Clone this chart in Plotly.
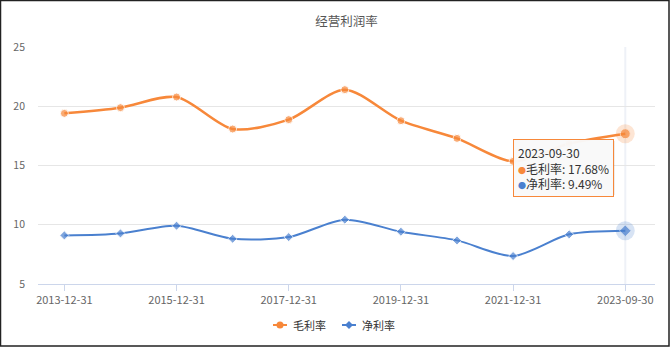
import plotly.graph_objects as go

# Reporting periods and margin series (%)
periods = ["2013-12-31", "2014-12-31", "2015-12-31", "2016-12-31", "2017-12-31",
           "2018-12-31", "2019-12-31", "2020-12-31", "2021-12-31", "2022-12-31",
           "2023-09-30"]
gross_margin = [19.40, 19.88, 20.78, 18.08, 18.87, 21.40, 18.78, 17.29, 15.35, 16.85, 17.68]
net_margin = [9.10, 9.27, 9.92, 8.82, 8.96, 10.43, 9.41, 8.68, 7.36, 9.19, 9.49]
tick_labels = ["2013-12-31", "2015-12-31", "2017-12-31", "2019-12-31", "2021-12-31", "2023-09-30"]
series_names = ["毛利率", "净利率"]

ORANGE = "#f7883a"
BLUE = "#4a80cf"
FONT = "Noto Sans CJK SC, Noto Sans, sans-serif"

W, H = 670, 347
L, R, T, B = 38, 15, 47, 63
pw, ph = W - L - R, H - T - B


def px(xp):
    return (xp - L) / pw


def py(yp):
    return (H - B - yp) / ph


fig = go.Figure()

# crosshair at the hovered period
fig.add_shape(type="line", xref="x", yref="paper", x0=periods[-1], x1=periods[-1],
              y0=0, y1=1, line=dict(color="rgba(232,236,244,0.75)", width=2), layer="below")

n = len(periods)
fig.add_trace(go.Scatter(
    x=periods, y=gross_margin, name=series_names[0], mode="lines+markers",
    line=dict(color=ORANGE, width=2.5, shape="spline", smoothing=0.8),
    marker=dict(symbol="circle", size=[8] * (n - 1) + [10], color=ORANGE),
    showlegend=False,
))
fig.add_trace(go.Scatter(
    x=periods, y=net_margin, name=series_names[1], mode="lines+markers",
    line=dict(color=BLUE, width=2, shape="spline", smoothing=0.8),
    marker=dict(symbol="diamond", size=[7] * (n - 1) + [9], color=BLUE),
    showlegend=False,
))
# hover halos on the latest period
fig.add_trace(go.Scatter(x=[periods[-1]], y=[gross_margin[-1]], mode="markers",
                         marker=dict(size=19, color=ORANGE, opacity=0.22),
                         showlegend=False, hoverinfo="skip"))
fig.add_trace(go.Scatter(x=[periods[-1]], y=[net_margin[-1]], mode="markers",
                         marker=dict(size=19, color=BLUE, opacity=0.22),
                         showlegend=False, hoverinfo="skip"))

# tooltip box for the latest period
dot = "<span style='font-size:8px;color:{c}'>●</span>"
tip_text = (f"{periods[-1]}<br>"
            f"{dot.format(c=ORANGE)}{series_names[0]}: {gross_margin[-1]:.2f}%<br>"
            f"{dot.format(c=BLUE)}{series_names[1]}: {net_margin[-1]:.2f}%")
fig.add_shape(type="rect", xref="paper", yref="paper",
              x0=px(515), x1=px(615), y0=py(195), y1=py(141),
              line=dict(width=0), fillcolor="rgba(0,0,0,0.07)", layer="above")
fig.add_annotation(
    xref="paper", yref="paper", x=px(513), y=py(139),
    xanchor="left", yanchor="top", align="left", showarrow=False,
    text=tip_text, font=dict(family=FONT, size=12, color="#333333"),
    bgcolor="rgba(249,249,249,0.97)", bordercolor=ORANGE, borderwidth=1, borderpad=4,
)

# legend: short line with marker, then the series name
legend_items = [(series_names[0], ORANGE, "circle", 273), (series_names[1], BLUE, "diamond", 342)]
ly = py(325)
for name, color, sym, x0 in legend_items:
    fig.add_shape(type="line", xref="paper", yref="paper", x0=px(x0), x1=px(x0 + 14),
                  y0=ly, y1=ly, line=dict(color=color, width=2))
    cx = x0 + 7
    if sym == "circle":
        fig.add_shape(type="circle", xref="paper", yref="paper",
                      x0=px(cx - 3.5), x1=px(cx + 3.5), y0=py(325 + 3.5), y1=py(325 - 3.5),
                      line=dict(width=0), fillcolor=color)
    else:
        fig.add_shape(type="path", xref="paper", yref="paper",
                      path=(f"M {px(cx)} {py(321)} L {px(cx + 4)} {py(325)} "
                            f"L {px(cx)} {py(329)} L {px(cx - 4)} {py(325)} Z"),
                      line=dict(width=0), fillcolor=color)
    fig.add_annotation(xref="paper", yref="paper", x=px(x0 + 18), y=ly,
                       xanchor="left", yanchor="middle", showarrow=False,
                       text=name, font=dict(family=FONT, size=11, color="#333333"))

# outer frame
fig.add_shape(type="rect", xref="paper", yref="paper",
              x0=px(0.5), x1=px(W - 1), y0=py(H - 1), y1=py(0.5),
              line=dict(color="#222222", width=1.5), layer="above")

fig.update_layout(
    width=W, height=H,
    margin=dict(l=L, r=R, t=T, b=B, autoexpand=False),
    paper_bgcolor="white", plot_bgcolor="white",
    title=dict(text="经营利润率", x=0.5, xref="paper", y=1 - 22 / H, yanchor="middle",
               font=dict(family=FONT, size=12.5, color="#555555")),
    font=dict(family=FONT, size=10, color="#666666"),
    showlegend=False,
    hovermode=False,
)
fig.update_xaxes(
    type="category", range=[-0.47, n - 1 + 0.53],
    tickvals=tick_labels, ticktext=tick_labels,
    showgrid=False, showline=True, linecolor="#ccd6eb", linewidth=1,
    ticks="outside", ticklen=6, tickcolor="#ccd6eb",
    tickfont=dict(family=FONT, size=11, color="#666666"),
    zeroline=False, automargin=False,
)
fig.update_yaxes(
    range=[5, 25], dtick=5, showgrid=True, gridcolor="#e6e6e6", gridwidth=1,
    zeroline=False, showline=False, ticks="",
    ticklabelstandoff=12, automargin=False,
    tickfont=dict(family=FONT, size=10.5, color="#666666"),
)

fig.write_html("out.html")
